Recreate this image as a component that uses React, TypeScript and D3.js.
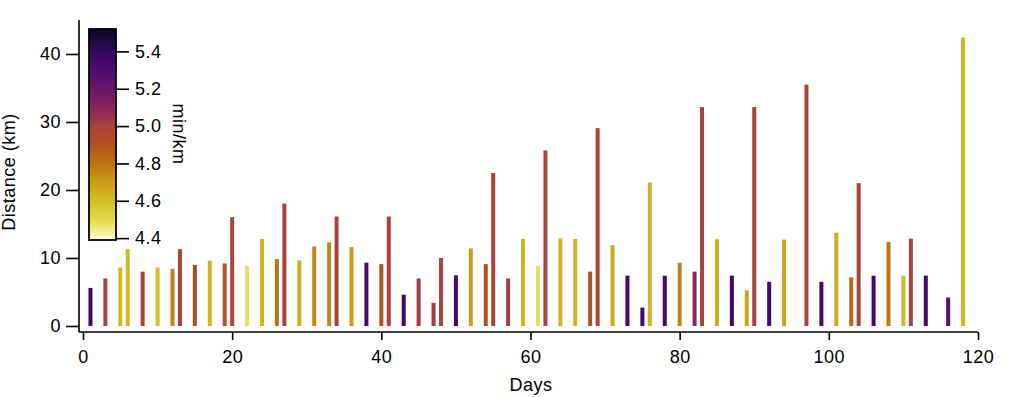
import * as d3 from "d3";
import { useEffect, useRef } from "react";

const days = [1, 3, 5, 6, 8, 10, 12, 13, 15, 17, 19, 20, 22, 24, 26, 27, 29, 31, 33, 34, 36, 38, 40, 41, 43, 45, 47, 48, 50, 52, 54, 55, 57, 59, 61, 62, 64, 66, 68, 69, 71, 73, 75, 76, 78, 80, 82, 83, 85, 87, 89, 90, 92, 94, 97, 99, 101, 103, 104, 106, 108, 110, 111, 113, 116, 118];
const distances = [5.6, 7.0, 8.6, 11.3, 8.0, 8.6, 8.4, 11.3, 9.0, 9.6, 9.2, 16.0, 8.8, 12.8, 9.85, 18.0, 9.65, 11.7, 12.3, 16.1, 11.6, 9.3, 9.1, 16.1, 4.6, 7.0, 3.4, 10.0, 7.45, 11.4, 9.1, 22.5, 7.0, 12.8, 8.8, 25.8, 12.9, 12.8, 8.0, 29.1, 11.9, 7.4, 2.7, 21.1, 7.4, 9.3, 8.0, 32.2, 12.75, 7.4, 5.25, 32.2, 6.5, 12.7, 35.5, 6.5, 13.7, 7.15, 21.0, 7.4, 12.35, 7.4, 12.85, 7.4, 4.2, 42.4];
const paces = [5.35, 5.0, 4.62, 4.62, 5.0, 4.6, 4.76, 5.0, 4.92, 4.63, 4.9, 5.0, 4.48, 4.63, 4.8, 5.0, 4.65, 4.75, 4.76, 5.0, 4.7, 5.33, 4.9, 5.0, 5.35, 5.02, 5.02, 5.0, 5.35, 4.7, 4.9, 5.0, 5.02, 4.63, 4.48, 5.0, 4.63, 4.63, 4.93, 5.0, 4.66, 5.35, 5.35, 4.63, 5.35, 4.76, 5.1, 5.0, 4.66, 5.35, 4.68, 5.0, 5.35, 4.68, 5.0, 5.35, 4.66, 4.83, 5.0, 5.35, 4.8, 4.62, 5.0, 5.35, 5.25, 4.63];

const xTicks = [0, 20, 40, 60, 80, 100, 120];
const yTicks = [0, 10, 20, 30, 40];
const paceTicks = [4.4, 4.6, 4.8, 5.0, 5.2, 5.4];

// colour stops
const paceStops = [4.39, 4.42, 4.5, 4.6, 4.7, 4.8, 4.9, 5.0, 5.05, 5.15, 5.25, 5.35, 5.45, 5.52];
const paceColors = ["#fffff6", "#f3f3a8", "#e2da4a", "#d4bf25", "#ca9c17", "#bd7214", "#b2521f", "#a8433f", "#98304d", "#7b1b63", "#5a1068", "#42096a", "#1f0c48", "#0b0721"];

const App = () => {
    const ref = useRef<SVGSVGElement>(null);
    const width = 1024;
    const height = 397;
    const font = "'Liberation Sans', Arial, sans-serif";
    const fontSize = 18;

    useEffect(() => {
        const svg = d3.select(ref.current)
            .attr("font-family", font)
            .attr("letter-spacing", 0.5);
        svg.selectAll("*").remove();

        const x = d3.scaleLinear().domain([0, 120]).range([83, 978]);
        const y = d3.scaleLinear().domain([0, 45]).range([326, 20]);
        const color = d3.scaleLinear<string>().domain(paceStops).range(paceColors).clamp(true);

        // bars
        svg.append("g")
            .selectAll("rect")
            .data(days)
            .join("rect")
            .attr("x", (d) => x(d) - 2)
            .attr("y", (_, i) => y(distances[i]))
            .attr("width", 4)
            .attr("height", (_, i) => y(0) - y(distances[i]))
            .attr("fill", (_, i) => color(paces[i]));

        // x axis, offset below the plot
        const xAxis = svg.append("g")
            .attr("transform", "translate(0,332)")
            .call(d3.axisBottom(x).tickValues(xTicks).tickSize(8).tickPadding(10).tickSizeOuter(0));
        xAxis.select(".domain").attr("d", "M79,0H978");
        xAxis.selectAll("line, path").attr("stroke", "#000").attr("stroke-width", 1.6);
        xAxis.selectAll("text").attr("font-size", fontSize).attr("font-family", font).attr("fill", "#000");

        // y axis, offset left of the plot
        const yAxis = svg.append("g")
            .attr("transform", "translate(79,0)")
            .call(d3.axisLeft(y).tickValues(yTicks).tickSize(13).tickPadding(5).tickSizeOuter(0));
        yAxis.select(".domain").attr("d", "M0,20V332");
        yAxis.selectAll("line, path").attr("stroke", "#000").attr("stroke-width", 1.6);
        yAxis.selectAll("text").attr("font-size", fontSize).attr("font-family", font).attr("fill", "#000");

        svg.append("text")
            .attr("x", 531)
            .attr("y", 391)
            .attr("text-anchor", "middle")
            .attr("font-size", fontSize)
            .text("Days");

        svg.append("text")
            .attr("transform", "translate(15,172) rotate(-90)")
            .attr("text-anchor", "middle")
            .attr("font-size", fontSize)
            .text("Distance (km)");

        // colour bar
        const cb = d3.scaleLinear().domain([4.39, 5.52]).range([240, 29]);
        const grad = svg.append("defs").append("linearGradient")
            .attr("id", "pace-grad")
            .attr("x1", 0).attr("y1", 1).attr("x2", 0).attr("y2", 0);
        d3.range(0, 1.0001, 0.02).forEach((t) => {
            const v = 4.39 + t * (5.52 - 4.39);
            grad.append("stop").attr("offset", t).attr("stop-color", color(v));
        });
        svg.append("rect")
            .attr("x", 89)
            .attr("y", cb(5.52))
            .attr("width", 27)
            .attr("height", cb(4.39) - cb(5.52))
            .attr("fill", "url(#pace-grad)")
            .attr("stroke", "#000")
            .attr("stroke-width", 1.8);

        const cbAxis = svg.append("g")
            .attr("transform", "translate(116,0)")
            .call(d3.axisRight(cb).tickValues(paceTicks).tickFormat(d3.format(".1f")).tickSize(13).tickPadding(6).tickSizeOuter(0));
        cbAxis.select(".domain").remove();
        cbAxis.selectAll("line").attr("stroke", "#000").attr("stroke-width", 1.6);
        cbAxis.selectAll("text").attr("font-size", fontSize).attr("font-family", font).attr("fill", "#000");

        svg.append("text")
            .attr("transform", "translate(173,134) rotate(90)")
            .attr("text-anchor", "middle")
            .attr("font-size", fontSize)
            .text("min/km");
    }, []);

    return <svg ref={ref} width={width} height={height} style={{ position: "absolute", left: 0, top: 0, background: "#fff" }} />;
};

export default App;
